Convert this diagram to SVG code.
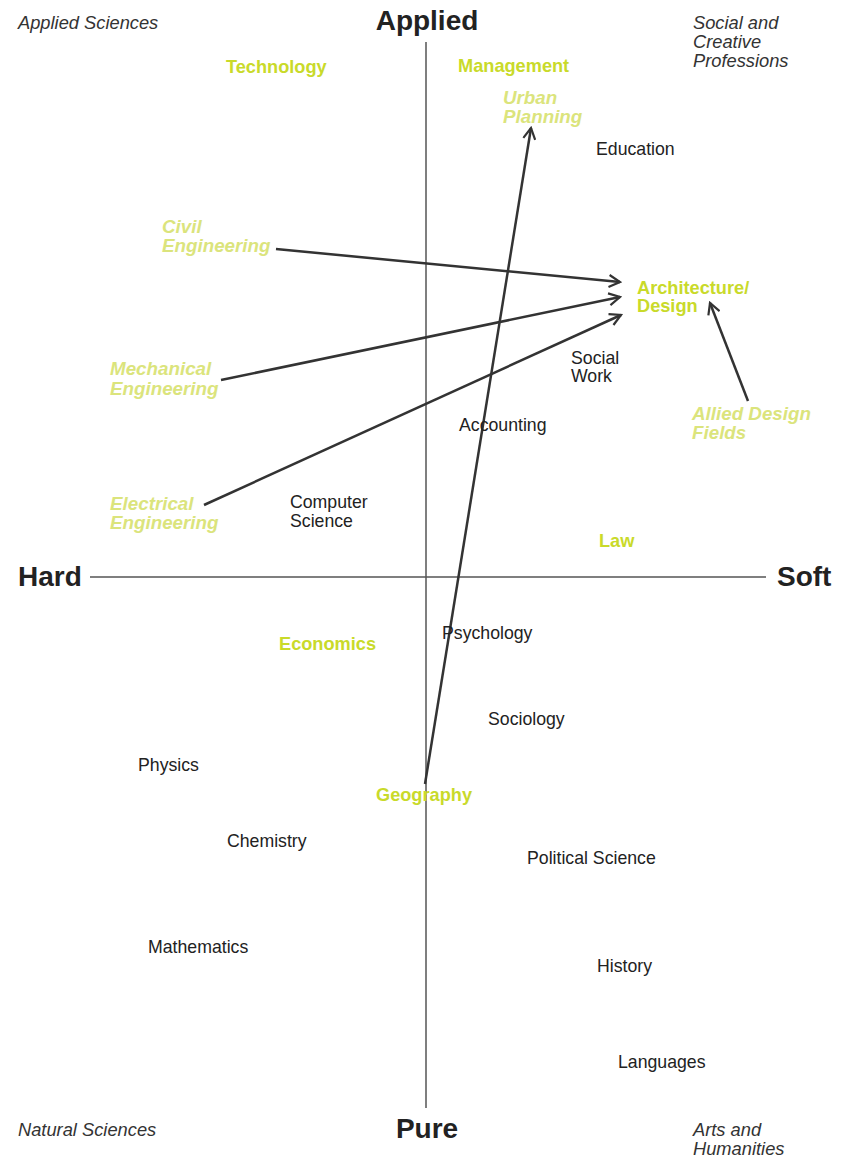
<svg xmlns="http://www.w3.org/2000/svg" width="852" height="1159" viewBox="0 0 852 1159">
<style>
text{font-family:"Liberation Sans",Arial,sans-serif;}
.ax{font-size:28px;font-weight:bold;fill:#222;}
.cap{font-size:18.3px;font-style:italic;fill:#333;}
.n{font-size:17.7px;fill:#222;}
.g{font-size:18.2px;font-weight:bold;fill:#c9da2a;}
.gi{font-size:18.8px;font-weight:bold;font-style:italic;fill:#dbe47c;}
.axis{stroke:#555;stroke-width:1.5;fill:none;}
.conn{stroke:#333;stroke-width:2.5;fill:none;}
</style>
<defs>
<marker id="ah" viewBox="0 0 14 14" refX="12" refY="7" markerWidth="14" markerHeight="14" markerUnits="userSpaceOnUse" orient="auto">
<path d="M1,1 L12,7 L1,13" fill="none" stroke="#333" stroke-width="2.2"/>
</marker>
</defs>
<rect width="852" height="1159" fill="#fff"/>
<g id="axes">
<line class="axis" x1="426" y1="42" x2="426" y2="1108"/>
<line class="axis" x1="90" y1="577" x2="766" y2="577"/>
<text class="ax" x="427" y="30" text-anchor="middle">Applied</text>
<text class="ax" x="427" y="1138" text-anchor="middle">Pure</text>
<text class="ax" x="18" y="586">Hard</text>
<text class="ax" x="777" y="586">Soft</text>
</g>
<g id="quadrants">
<text class="cap" x="18" y="29">Applied Sciences</text>
<text class="cap" x="693" y="29">Social and</text>
<text class="cap" x="693" y="48">Creative</text>
<text class="cap" x="693" y="67">Professions</text>
<text class="cap" x="18" y="1136">Natural Sciences</text>
<text class="cap" x="693" y="1136">Arts and</text>
<text class="cap" x="693" y="1155">Humanities</text>
</g>
<g id="connectors">
<line class="conn" x1="276" y1="249" x2="620" y2="282" marker-end="url(#ah)"/>
<line class="conn" x1="221" y1="380" x2="620" y2="297" marker-end="url(#ah)"/>
<line class="conn" x1="204" y1="505" x2="621" y2="315" marker-end="url(#ah)"/>
<line class="conn" x1="748" y1="401" x2="710" y2="303" marker-end="url(#ah)"/>
<line class="conn" x1="425" y1="784" x2="531" y2="128" marker-end="url(#ah)"/>
</g>
<g id="technology"><text class="g" x="226" y="73">Technology</text></g>
<g id="management"><text class="g" x="458" y="72">Management</text></g>
<g id="urban-planning"><text class="gi" x="503" y="104">Urban</text><text class="gi" x="503" y="123">Planning</text></g>
<g id="education"><text class="n" x="596" y="155">Education</text></g>
<g id="civil-engineering"><text class="gi" x="162" y="233">Civil</text><text class="gi" x="162" y="252">Engineering</text></g>
<g id="architecture-design"><text class="g" x="637" y="294">Architecture/</text><text class="g" x="637" y="312">Design</text></g>
<g id="mechanical-engineering"><text class="gi" x="110" y="375">Mechanical</text><text class="gi" x="110" y="395">Engineering</text></g>
<g id="social-work"><text class="n" x="571" y="364">Social</text><text class="n" x="571" y="382">Work</text></g>
<g id="allied-design-fields"><text class="gi" x="692" y="420">Allied Design</text><text class="gi" x="692" y="439">Fields</text></g>
<g id="accounting"><text class="n" x="459" y="431">Accounting</text></g>
<g id="electrical-engineering"><text class="gi" x="110" y="510">Electrical</text><text class="gi" x="110" y="529">Engineering</text></g>
<g id="computer-science"><text class="n" x="290" y="508">Computer</text><text class="n" x="290" y="527">Science</text></g>
<g id="law"><text class="g" x="599" y="547">Law</text></g>
<g id="psychology"><text class="n" x="442" y="639">Psychology</text></g>
<g id="economics"><text class="g" x="279" y="650">Economics</text></g>
<g id="sociology"><text class="n" x="488" y="725">Sociology</text></g>
<g id="physics"><text class="n" x="138" y="771">Physics</text></g>
<g id="geography"><text class="g" x="376" y="801">Geography</text></g>
<g id="chemistry"><text class="n" x="227" y="847">Chemistry</text></g>
<g id="political-science"><text class="n" x="527" y="864">Political Science</text></g>
<g id="mathematics"><text class="n" x="148" y="953">Mathematics</text></g>
<g id="history"><text class="n" x="597" y="972">History</text></g>
<g id="languages"><text class="n" x="618" y="1068">Languages</text></g>
</svg>
